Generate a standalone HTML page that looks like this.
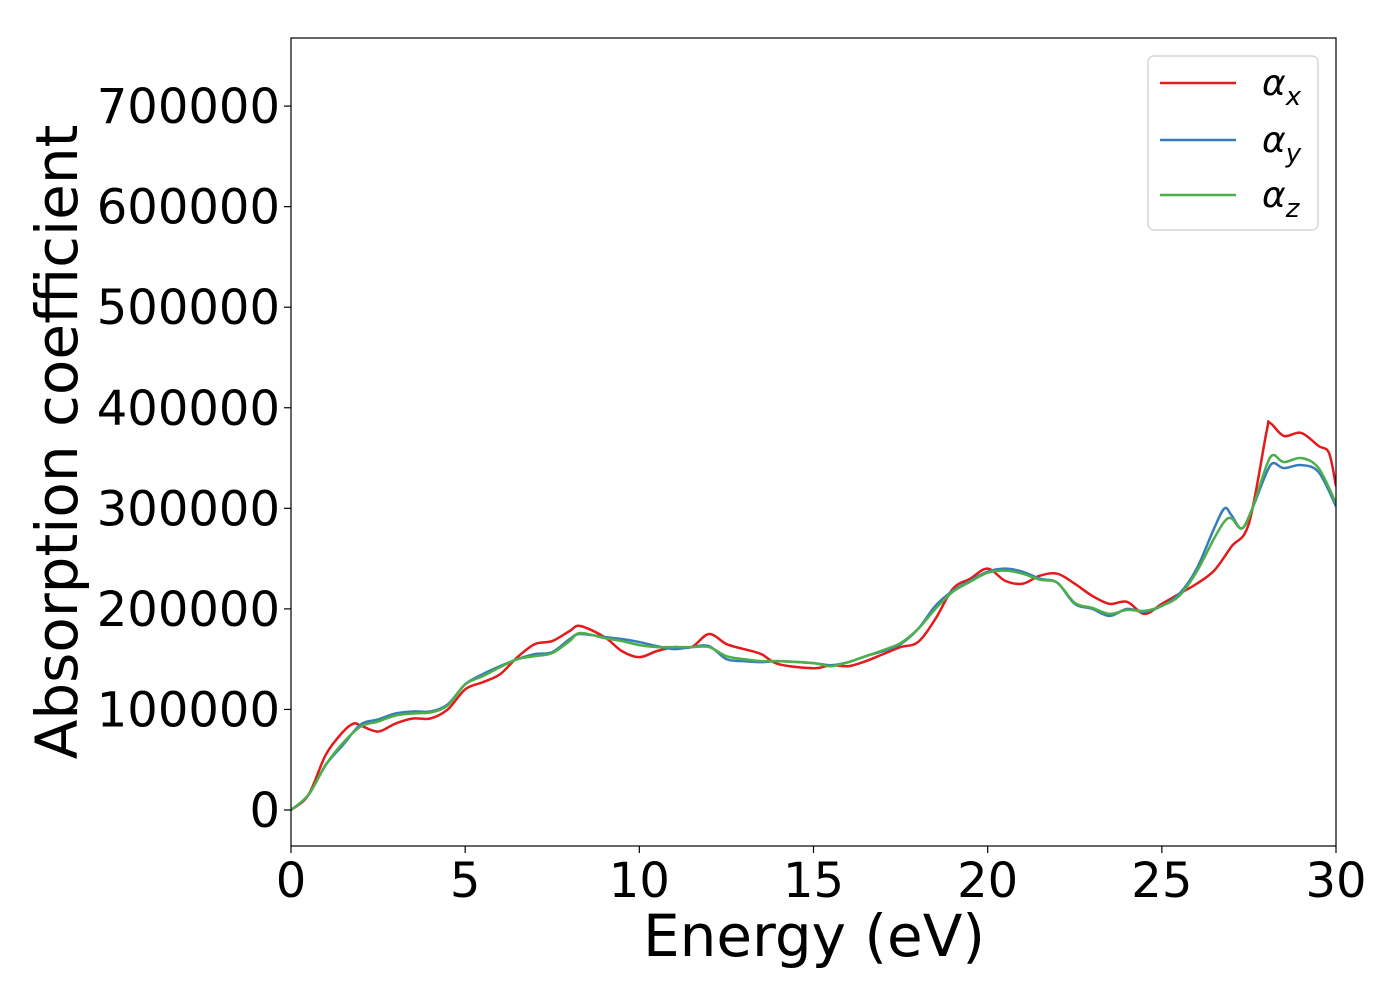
<!DOCTYPE html>
<html><head><meta charset="utf-8"><style>
body{margin:0;background:#fff;}
svg text{font-family:"DejaVu Sans","Liberation Sans",sans-serif;}
</style></head><body>
<svg id="chart" width="1400" height="1000" viewBox="0 0 1400 1000" xmlns="http://www.w3.org/2000/svg">
<g id="plot"></g>
<g id="axes"></g>
</svg>
<script>
const seriesNames=["αx","αy","αz"];
const xRed=[0,0.5,1,1.5,1.8,2,2.5,3,3.5,4,4.5,5,5.5,6,6.5,7,7.5,8,8.3,9,9.5,10,10.5,11,11.5,12,12.5,13,13.5,14,15,15.5,16,16.5,17,17.5,18,18.5,19,19.5,20,20.5,21,21.5,22,22.5,23,23.5,24,24.5,25,25.5,26,26.5,27,27.5,28,28.1,28.5,29,29.5,29.8,30];
const yRed=[0,15000,55000,78000,86000,84000,78000,86000,91000,91000,100000,120000,127000,135000,152000,165000,168000,178000,183000,172000,158000,152000,158000,162000,162000,175000,165000,160000,155000,145000,141000,144000,143000,148000,155000,162000,167000,190000,220000,230000,240000,228000,225000,233000,235000,225000,213000,205000,207000,195000,205000,215000,225000,238000,262000,285000,375000,385000,372000,375000,362000,355000,322000];
const xBlue=[0,0.5,1,1.5,2,2.5,3,3.5,4,4.5,5,5.5,6,6.5,7,7.5,8,8.3,9,9.5,10,10.5,11,11.5,12,12.5,13,13.5,14,15,15.5,16,16.5,17,17.5,18,18.5,19,19.5,20,20.5,21,21.5,22,22.5,23,23.5,24,24.5,25,25.5,26,26.5,26.8,27,27.3,27.6,28,28.2,28.5,29,29.5,30];
const yBlue=[0,15000,45000,65000,85000,90000,96000,98000,98000,105000,125000,135000,143000,150000,155000,157000,170000,175000,172000,170000,167000,163000,160000,162000,163000,150000,148000,147000,148000,146000,144000,147000,153000,158000,165000,180000,203000,218000,228000,237000,240000,237000,230000,226000,205000,200000,193000,200000,197000,203000,215000,240000,280000,300000,293000,280000,300000,335000,345000,340000,343000,336000,302000];
const xGreen=xBlue;
const yGreen=[0,15000,45000,67000,83000,88000,94000,96000,97000,104000,125000,133000,142000,150000,153000,156000,168000,176000,171000,168000,164000,162000,162000,162000,162000,153000,150000,148000,148000,146000,143000,147000,153000,159000,166000,180000,200000,217000,227000,236000,238000,235000,229000,226000,206000,201000,195000,199000,198000,203000,213000,237000,270000,287000,290000,280000,300000,342000,353000,346000,350000,340000,305000];
const xTicks=[0,5,10,15,20,25,30];
const yTicks=[0,100000,200000,300000,400000,500000,600000,700000];
const colors=["#e41a1c","#377eb8","#4daf4a"];
const L=291,R=1336,T=38,B=846,xmin=0,xmax=30,ymin=-35800,ymax=767700;
const sx=v=>L+(v-xmin)/(xmax-xmin)*(R-L);
const sy=v=>B-(v-ymin)/(ymax-ymin)*(B-T);
const NS="http://www.w3.org/2000/svg";
function mk(tag,attrs,parent){const e=document.createElementNS(NS,tag);for(const k in attrs)e.setAttribute(k,attrs[k]);parent.appendChild(e);return e;}
function smooth(xs,ys){const p=xs.map((x,i)=>[sx(x),sy(ys[i])]);let d="M"+p[0][0]+","+p[0][1];
for(let i=0;i<p.length-1;i++){const p0=p[Math.max(0,i-1)],p1=p[i],p2=p[i+1],p3=p[Math.min(p.length-1,i+2)];
const c1=[p1[0]+(p2[0]-p0[0])/6,p1[1]+(p2[1]-p0[1])/6],c2=[p2[0]-(p3[0]-p1[0])/6,p2[1]-(p3[1]-p1[1])/6];
d+=` C${c1[0]},${c1[1]} ${c2[0]},${c2[1]} ${p2[0]},${p2[1]}`;}return d;}
const plot=document.getElementById('plot'),axes=document.getElementById('axes');
const cp=mk('clipPath',{id:'clip'},plot);
mk('rect',{x:L,y:T,width:R-L,height:B-T},cp);
const data=[[xRed,yRed],[xBlue,yBlue],[xGreen,yGreen]];
const lineNames=['line-alpha-x','line-alpha-y','line-alpha-z'];
data.forEach((s,i)=>{const p=mk('path',{d:smooth(s[0],s[1]),fill:'none',stroke:colors[i],'stroke-width':2.5,'clip-path':'url(#clip)'},plot);

});
const frame=mk('rect',{x:L,y:T,width:R-L,height:B-T,fill:'none',stroke:'#000','stroke-width':1.2},axes);


xTicks.forEach(t=>{const x=sx(t);mk('line',{x1:x,x2:x,y1:B,y2:B+7,stroke:'#000','stroke-width':1.2},axes);
const tx=mk('text',{x:x,y:B+51,'font-size':48,'text-anchor':'middle'},axes);tx.textContent=t;

});
yTicks.forEach(t=>{const y=sy(t);mk('line',{x1:L-7,x2:L,y1:y,y2:y,stroke:'#000','stroke-width':1.2},axes);
const tx=mk('text',{x:L-11,y:y+17,'font-size':48,'text-anchor':'end'},axes);tx.textContent=t;

});
const xl=mk('text',{x:814,y:956,'font-size':58,'text-anchor':'middle'},axes);xl.textContent='Energy (eV)';


const yl=mk('text',{x:0,y:0,'font-size':58,'text-anchor':'middle',transform:`translate(77,442) rotate(-90)`},axes);yl.textContent='Absorption coefficient';


const lg=mk('g',{},axes);


mk('rect',{x:1148,y:56,width:170,height:174,rx:6,fill:'#fff',stroke:'#ccc','stroke-width':1.2},lg);
const subs=['x','y','z'];const ly=[83,140,195];
subs.forEach((s,i)=>{const e=mk('g',{},lg);


mk('line',{x1:1160,x2:1236,y1:ly[i],y2:ly[i],stroke:colors[i],'stroke-width':2.5},e);
const t=mk('text',{x:1262,y:ly[i]+12,'font-size':36,'font-style':'italic'},e);
t.innerHTML='α<tspan font-size="26" dy="10">'+s+'</tspan>';});
</script>
</body></html>
